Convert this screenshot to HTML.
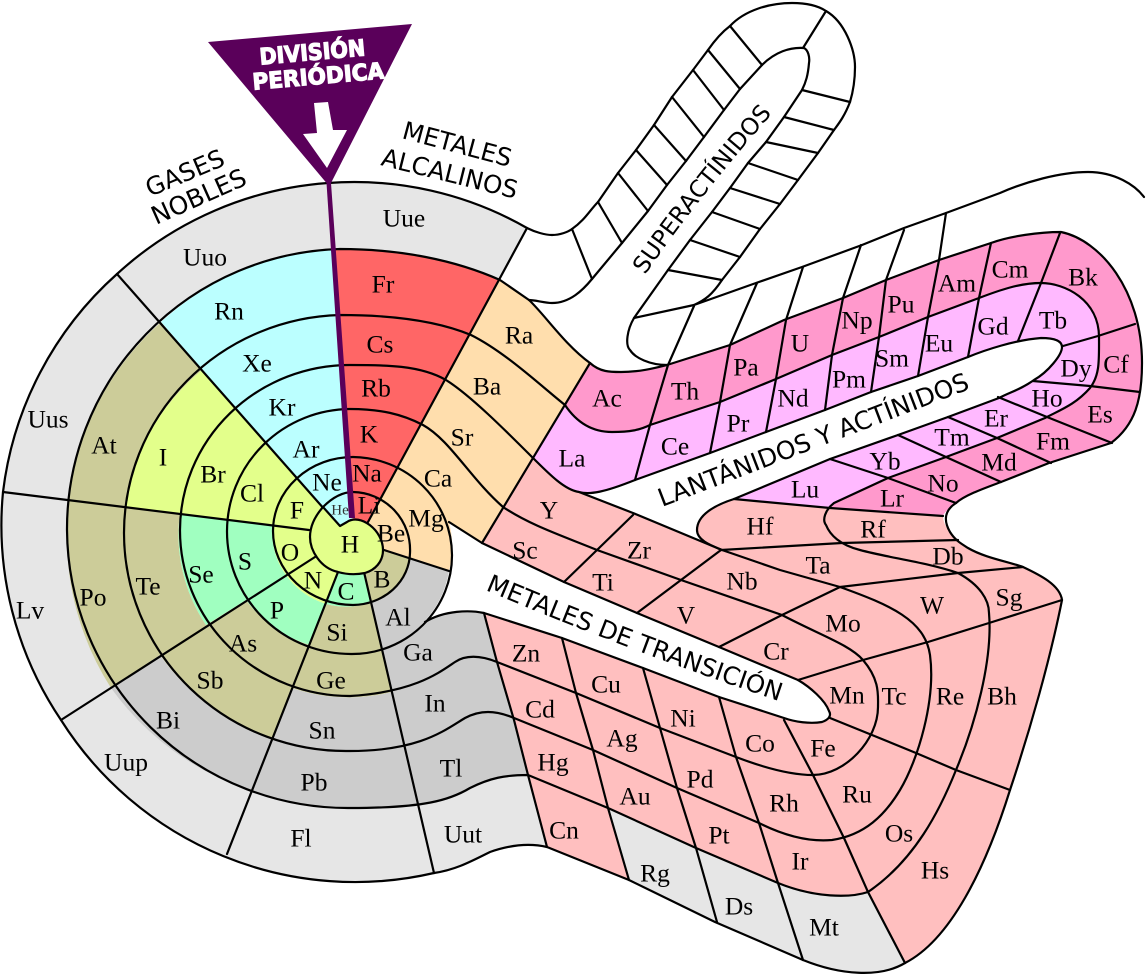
<!DOCTYPE html>
<html><head><meta charset="utf-8"><style>
html,body{margin:0;padding:0;background:#fff}
svg{display:block}
.e text{font-family:"Liberation Serif",serif;font-size:25.5px;text-anchor:middle;fill:#000}
.l{font-family:"DejaVu Sans",sans-serif;font-size:24.7px;fill:#000}
.ln{fill:none;stroke:#000;stroke-width:2.2;stroke-linejoin:round;stroke-linecap:round}
</style></head><body>
<svg width="1147" height="975" viewBox="0 0 1147 975" xmlns="http://www.w3.org/2000/svg">
<!-- fills -->
<path fill="#e6e6e6" d="M527 228A348 348 0 0 0 328 183A348 348 0 0 0 117 274A348 348 0 0 0 3 492A348 348 0 0 0 61 720A348 348 0 0 0 434 873C455 870 470 862 490 852C510 845 530 843 547 847L528 775C505 775 490 778 470 788C450 800 425 808 350 808A281 280 0 0 1 67 530A281 280 0 0 1 340 249C400 249 455 260 500 280Z"/>
<path fill="#bbffff" d="M161 322A281 280 0 0 1 334 249L352 518L340 527Z"/>
<path fill="#ff6666" d="M334 249C400 249 455 260 500 280L368 522L352 518Z"/>
<path fill="#ffdead" d="M500 280L529 300C545 315 565 345 590 363L482 543L449 522A100 98.5 0 0 1 449 571L384 550L368 522Z"/>
<path fill="#cccc99" d="M161 322A281 280 0 0 0 67 530A281 280 0 0 0 111 688L160 655A222 218 0 0 0 272 738L292 688A170 165 0 0 0 392 692L382 648L370 603A70 60 0 0 1 326 604L310 645A124 122 0 0 1 246 600L206 625A170 165 0 0 1 180 513L125 507A222 218 0 0 1 202 370Z"/>
<path fill="#cccc99" d="M364 572L370 603A58 53 0 0 0 410 558L384 550Z"/>
<path fill="#a0ffc0" d="M180 513L273 525A80 74 0 0 0 286 575A80 74 0 0 0 326 604L310 645A124 122 0 0 1 246 600L206 625A170 165 0 0 1 180 513Z"/>
<path fill="#a0ffc0" d="M326 604L338 572L364 572L370 603A70 60 0 0 1 326 604Z"/>
<path fill="#cccccc" d="M111 688A281 280 0 0 0 252 791L272 738A222 218 0 0 1 160 655Z"/>
<path fill="#cccccc" d="M252 791A281 280 0 0 0 350 808C425 808 450 800 470 788C490 778 505 775 528 775L484 613C470 610 445 610 425 622L421 625A100 98.5 0 0 0 449 571L410 558A58 53 0 0 1 370 603L382 648L392 692A170 165 0 0 1 292 688Z"/>
<path fill="#e3ff8b" d="M202 370A222 218 0 0 0 125 507L273 525A80 74 0 0 0 286 575A80 74 0 0 0 326 604L338 572L330 540L340 527Z"/>
<path fill="#ffbfbf" d="M532 457C550 475 565 490 579 492L633 513L722 550C710 545 697 540 697 530C697 515 715 505 734 499L943 516C943 520 945 527 950 532C955 540 960 543 968 548C985 558 1010 562 1023 567C1040 575 1060 585 1062 600C1050 660 1030 730 1010 790C985 870 950 940 905 963C880 978 840 975 803 960L715 922L629 880L547 847L528 775L484 613L562 638L643 668L719 697L784 718C795 722 810 724 822 722C828 720 832 716 829 711C825 700 810 687 798 680L719 647L637 613L564 582L482 543Z"/>
<path fill="#e6e6e6" d="M608 808L696 848L778 883C815 898 850 898 868 892L905 963C880 978 840 975 803 960L715 922L629 880Z"/>
<path fill="#ff99cc" d="M565 405L590 363C600 372 610 372 621 372C640 372 655 368 667 365L730 345L784 320L843 298L886 280L939 260L991 243C1010 236 1040 232 1061 232C1100 240 1142 290 1142 363C1142 400 1135 425 1111 443L1049 463L1001 482C985 488 965 495 956 503C945 510 943 516 943 516L830 508L834 503L888 478L946 457L997 438L1045 418C1060 410 1075 405 1090 388C1100 375 1099 360 1099 337C1099 300 1065 283 1041 283C1020 283 1000 290 979 298L928 317L879 337L832 355L776 379L720 402L650 425C640 430 630 432 612 432C590 432 575 420 565 405Z"/>
<path fill="#ffb9ff" d="M565 405C575 420 590 432 612 432C630 432 640 430 650 425L720 402L776 379L832 355L879 337L928 317L979 298C1000 290 1020 283 1041 283C1065 283 1099 300 1099 337C1099 360 1100 375 1090 388C1075 405 1060 410 1045 418L997 438L946 457L888 478L834 503L830 508L734 499L830 459L898 435L948 417L999 398C1010 392 1020 390 1034 380C1048 372 1062 355 1062 347C1062 340 1052 338 1041 338C1015 340 985 350 968 357L918 376L871 392L825 410L766 432L710 453L635 480C605 492 590 495 579 492C565 490 550 475 532 457Z"/>
<!-- main spiral -->
<path class="ln" d="M323 507C333 497 343 492 353 492A58 58 0 0 1 410 553A58 53 0 0 1 353 605A80 74 0 0 1 273 531A80 74 0 0 1 353 457A100 98.5 0 0 1 452 555A100 98.5 0 0 1 352 654A124 122.5 0 0 1 227 531A124 122.5 0 0 1 350 409C380 409 402 414 423 425C450 440 470 478 503 507C530 525 560 535 597 550L681 580L782 615C820 635 850 645 863 660C880 680 878 695 878 707C878 740 845 775 813 775C795 775 770 770 736 757L660 728L576 693L497 662C480 655 465 655 455 662C440 672 415 692 350 696A170 165.5 0 0 1 180 530A170 165.5 0 0 1 350 365C385 365 420 365 446 380C470 395 505 430 532 457C550 475 565 490 579 492L633 513L722 550L780 570L840 587C890 605 925 620 930 655C936 700 918 760 900 790C885 815 865 835 832 840C810 842 785 836 759 823L677 788L593 750L514 718C495 710 480 710 465 718C445 730 420 751 350 751A222 218 0 0 1 124 533A222 218 0 0 1 340 315C390 315 435 320 471 335C505 352 540 385 565 405C575 420 590 432 612 432C630 432 640 430 650 425L720 402L776 379L832 355L879 337L928 317L979 298C1000 290 1020 283 1041 283C1065 283 1099 300 1099 337C1099 360 1100 375 1090 388C1075 405 1060 410 1045 418L997 438L946 457L888 478L834 503C825 510 822 520 826 525C830 535 840 545 860 550C890 558 925 562 958 573C980 585 989 600 989 613C993 660 975 725 956 770C940 810 915 860 868 892C850 898 815 898 778 883L696 848L608 808L528 775C505 775 490 778 470 788C450 800 425 808 350 808A281 280 0 0 1 67 530A281 280 0 0 1 340 249C400 249 455 260 500 280L529 300C545 315 565 345 590 363C600 372 610 372 621 372C640 372 655 368 667 365L730 345L784 320L843 298L886 280L939 260L991 243C1010 236 1040 232 1061 232C1100 240 1142 290 1142 363C1142 400 1135 425 1111 443L1049 463L1001 482C985 488 965 495 956 503C945 510 943 520 950 532C955 540 960 543 968 548C985 558 1010 562 1023 567C1040 575 1060 585 1062 600C1050 660 1030 730 1010 790C985 870 950 940 905 963C880 978 840 975 803 960L715 922L629 880L547 847C530 843 510 845 490 852C470 862 455 870 434 873"/>
<!-- outer circle + super outer -->
<path class="ln" d="M434 873A348 348 0 0 1 61 720A348 348 0 0 1 3 492A348 348 0 0 1 117 274A348 348 0 0 1 328 183A348 348 0 0 1 527 228C535 232 545 235 552 235C560 235 568 232 572 229C585 220 590 210 598 202L618 173L636 150L654 125L672 97L693 70L708 50C715 40 722 32 730 26C745 10 770 3 792 3C810 3 820 7 826 11C845 22 855 50 855 67C855 80 853 92 850 102C845 115 840 122 834 130L818 153L798 180L780 204L760 229L740 257L722 280C712 295 705 300 694 305L756 283L802 267L862 245L904 228L946 213L1000 193C1025 182 1060 172 1088 172C1115 172 1135 185 1144 197"/>
<!-- super inner -->
<path class="ln" d="M529 300C535 300 545 303 552 303C570 303 583 290 592 279L622 243L648 211L667 185L686 161L704 137L724 110L740 89L762 65C775 52 790 47 804 48C808 50 810 57 809 63C808 75 806 82 802 90L784 117L766 142L748 163L730 188L712 212L690 240L668 270L634 318C627 330 625 345 630 350C635 358 650 365 667 365"/>
<path class="ln" d="M634 318L694 305"/>
<!-- super ticks -->
<path class="ln" d="M572 229L592 279M598 202L622 243M618 173L648 211M636 150L667 185M654 125L686 161M672 97L704 137M693 70L724 110M708 50L740 89M730 26L762 65M826 11L803 48M850 102L802 90M834 130L784 117M818 153L766 142M798 180L748 163M780 204L730 188M760 229L712 212M740 257L690 240M722 280L668 270"/>
<!-- lan/act slot and cross lines -->
<path class="ln" d="M579 492C590 495 605 492 635 480L710 453L766 432L825 410L871 392L918 376L968 357C985 350 1015 340 1041 338C1052 338 1062 340 1062 347C1062 355 1048 372 1034 380C1020 390 1010 392 999 398L948 417L898 435L830 459L734 499C715 505 697 515 697 530C697 540 710 545 722 550"/>
<path class="ln" d="M734 499L830 508L943 516"/>
<path class="ln" d="M694 306L668 365L650 425L635 480M757 283L730 345L720 402L710 453M803 267L786 320L776 379L766 432M861 245L843 298L832 355L825 410M904 230L886 280L879 337L871 392M946 213L939 260L928 317L918 376M991 243L979 298L968 357M1060 233L1041 283L1018 341M1135 324L1098 336L1063 346M1140 392L1090 386L1033 381M1112 443L1047 417L998 397M1051 463L997 438L948 417M1001 482L946 457L898 435M956 503L888 478L830 459"/>
<!-- transition lines -->
<path class="ln" d="M449 522L482 543L564 582L637 613L719 647L798 680C810 687 825 700 829 711C832 716 828 720 822 722C810 724 795 722 784 718L719 697L643 668L562 638L484 613C470 610 445 610 425 622"/>
<path class="ln" d="M633 515L597 550L564 582M721 550L681 580L637 613M840 587L782 615L719 647M1062 600L989 623L928 642L863 660L798 680M721 550L842 543L958 540M840 587L958 573L1023 567M830 718L872 735L916 753L956 770L1010 790M784 720L813 775L844 838L868 892L905 963M719 697L736 757L759 823L778 883L803 960M643 668L660 728L677 788L696 848L717 922M562 638L576 693L593 750L608 808L629 880M484 613L497 662L514 720L528 775L547 847"/>
<!-- radial lines -->
<path class="ln" d="M117 274L340 527M3 492L309 530M61 720L315 557M227 854L338 572M434 873L364 572M384 550L449 571M527 228L368 522M590 363L482 543"/>
<path d="M340 526L347 522C360 513 383 530 383 550C383 562 375 570 365 573C355 575 345 574 338 572C320 568 310 550 310 537C310 525 316 515 323 507Z" fill="#e3ff8b" stroke="#000" stroke-width="2.2" stroke-linejoin="round"/>
<!-- division -->
<path fill="#5a005a" d="M208 42L412 24L331 183L355 518L349 518L326.500 183Z"/>
<path fill="#fff" d="M314 103L328 102L333 130L347 130L327 168L303 134L317 133Z"/>
<g font-family="DejaVu Sans,sans-serif" font-weight="bold" fill="#fff" stroke="#fff" stroke-width="1.2">
<text x="313" y="60" text-anchor="middle" font-size="22.500" textLength="106" lengthAdjust="spacingAndGlyphs" transform="rotate(-5 313 60)">DIVISIÓN</text>
<text x="319" y="84" text-anchor="middle" font-size="22.500" textLength="132" lengthAdjust="spacingAndGlyphs" transform="rotate(-5 319 84)">PERIÓDICA</text>
</g>
<!-- labels -->
<defs>
<path id="p1" d="M485 590Q640 655 785 703"/>
<path id="p2" d="M662 507L975 387"/>
<path id="p3" d="M645 275Q700 195 778 107"/>
</defs>
<text class="l"><textPath href="#p1">METALES DE TRANSICIÓN</textPath></text>
<text class="l" style="font-size:25px"><textPath href="#p2">LANTÁNIDOS Y ACTÍNIDOS</textPath></text>
<text class="l" style="font-size:23.500px"><textPath href="#p3">SUPERACTÍNIDOS</textPath></text>
<text class="l" x="401" y="138" transform="rotate(15 401 138)">METALES</text>
<text class="l" x="380" y="165" transform="rotate(14 380 165)">ALCALINOS</text>
<text class="l" x="150" y="197" transform="rotate(-23 150 197)">GASES</text>
<text class="l" x="156" y="225" transform="rotate(-24 156 225)" style="font-size:25px">NOBLES</text>
<g class="e" transform="translate(0,8.500)">
<text x="404" y="218">Uue</text><text x="383" y="284">Fr</text><text x="380" y="344">Cs</text><text x="376" y="388">Rb</text><text x="369" y="434">K</text><text x="367" y="473">Na</text><text x="369" y="505">Li</text><text x="340" y="506" style="font-size:15px;fill:#333">He</text><text x="327" y="482">Ne</text><text x="306" y="449">Ar</text><text x="282" y="407">Kr</text><text x="257" y="363">Xe</text><text x="229" y="311">Rn</text><text x="205" y="257">Uuo</text><text x="48" y="419">Uus</text><text x="104" y="445">At</text><text x="163" y="457">I</text><text x="213" y="474">Br</text><text x="252" y="493">Cl</text><text x="297" y="510">F</text><text x="350" y="544">H</text><text x="391" y="533">Be</text><text x="426" y="518">Mg</text><text x="438" y="478">Ca</text><text x="462" y="437">Sr</text><text x="487" y="386">Ba</text><text x="519" y="335">Ra</text>
<text x="30" y="610">Lv</text><text x="93" y="597">Po</text><text x="148" y="586">Te</text><text x="201" y="574">Se</text><text x="245" y="561">S</text><text x="290" y="552">O</text><text x="313" y="580">N</text><text x="346" y="591">C</text><text x="382" y="579">B</text><text x="398" y="617">Al</text><text x="337" y="632">Si</text><text x="277" y="610">P</text><text x="243" y="643">As</text><text x="210" y="680">Sb</text><text x="168" y="720">Bi</text><text x="126" y="762">Uup</text><text x="331" y="680">Ge</text><text x="418" y="652">Ga</text><text x="322" y="730">Sn</text><text x="435" y="703">In</text><text x="314" y="782">Pb</text><text x="451" y="768">Tl</text><text x="301" y="838">Fl</text><text x="463" y="834">Uut</text>
<text x="526" y="653">Zn</text><text x="606" y="684">Cu</text><text x="683" y="718">Ni</text><text x="760" y="743">Co</text><text x="823" y="748">Fe</text><text x="847" y="695">Mn</text><text x="540" y="709">Cd</text><text x="622" y="738">Ag</text><text x="700" y="779">Pd</text><text x="784" y="803">Rh</text><text x="857" y="794">Ru</text><text x="553" y="762">Hg</text><text x="635" y="796">Au</text><text x="719" y="835">Pt</text><text x="800" y="861">Ir</text><text x="899" y="833">Os</text><text x="564" y="830">Cn</text><text x="655" y="873">Rg</text><text x="739" y="906">Ds</text><text x="824" y="927">Mt</text><text x="935" y="870">Hs</text><text x="894" y="696">Tc</text><text x="950" y="696">Re</text><text x="1002" y="696">Bh</text>
<text x="525" y="550">Sc</text><text x="549" y="510">Y</text><text x="603" y="582">Ti</text><text x="639" y="550">Zr</text><text x="686" y="615">V</text><text x="742" y="581">Nb</text><text x="776" y="651">Cr</text><text x="818" y="565">Ta</text><text x="843" y="623">Mo</text><text x="932" y="605">W</text><text x="1009" y="597">Sg</text><text x="760" y="526">Hf</text><text x="873" y="529">Rf</text><text x="948" y="556">Db</text>
<text x="572" y="458">La</text><text x="675" y="446">Ce</text><text x="738" y="423">Pr</text><text x="793" y="398">Nd</text><text x="849" y="379">Pm</text><text x="892" y="358">Sm</text><text x="939" y="343">Eu</text><text x="993" y="326">Gd</text><text x="1053" y="320">Tb</text><text x="1076" y="368">Dy</text><text x="1047" y="398">Ho</text><text x="996" y="418">Er</text><text x="952" y="437">Tm</text><text x="885" y="461">Yb</text><text x="805" y="489">Lu</text><text x="892" y="498">Lr</text><text x="943" y="483">No</text><text x="999" y="462">Md</text><text x="1053" y="441">Fm</text><text x="1100" y="414">Es</text><text x="1116" y="364">Cf</text><text x="1083" y="277">Bk</text><text x="1010" y="269">Cm</text><text x="957" y="283">Am</text><text x="901" y="304">Pu</text><text x="857" y="320">Np</text><text x="800" y="343">U</text><text x="746" y="367">Pa</text><text x="685" y="391">Th</text><text x="607" y="398">Ac</text>
</g>
</svg>
</body></html>
